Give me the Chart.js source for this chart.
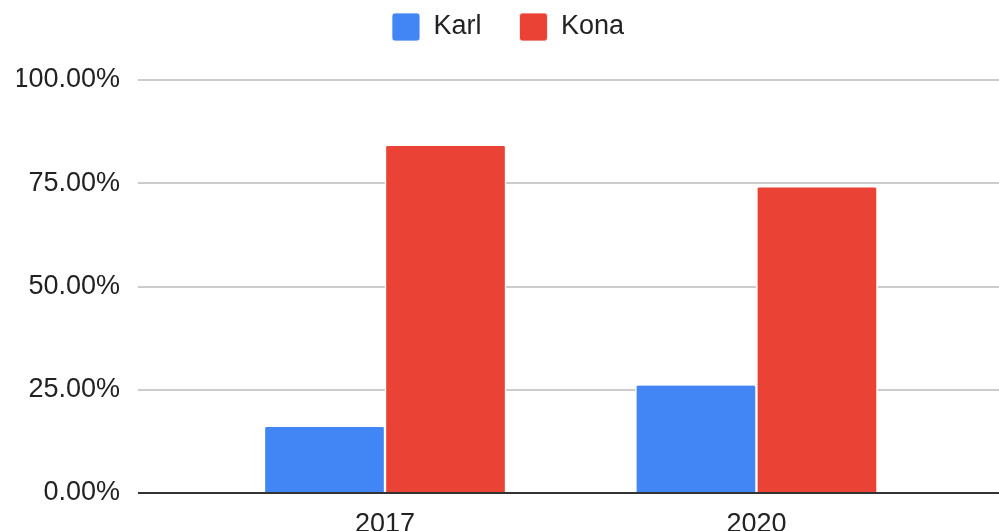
<!DOCTYPE html>
<html>
<head>
<meta charset="utf-8">
<script src="https://cdn.jsdelivr.net/npm/chart.js@4"></script>
<style>
  html, body { margin: 0; padding: 0; background: #fff; }
  #wrap { width: 999px; height: 531px; position: relative; }
</style>
</head>
<body>
<div id="wrap"><canvas id="chart"></canvas></div>
<script>
// ================= DATA =================
const years = ["2017", "2020"];
const karl = [0.16, 0.26];
const kona = [0.84, 0.74];
const yTicks = [0, 0.25, 0.5, 0.75, 1];

const FONT = "'Liberation Sans', Arial, sans-serif";
const TEXT = "#222";

// extra room under the legend (common legend-margin trick)
const legendMargin = {
  id: "legendMargin",
  beforeInit(chart) {
    const fitLegend = chart.legend.fit;
    chart.legend.fit = function fit() {
      fitLegend.bind(chart.legend)();
      this.height += 29;
    };
  }
};

const toPoints = arr => arr.map((v, i) => ({ x: i, y: v }));

new Chart(document.getElementById("chart"), {
  type: "bar",
  data: {
    datasets: [
      { label: "Karl", data: toPoints(karl), backgroundColor: "#4285F4" },
      { label: "Kona", data: toPoints(kona), backgroundColor: "#EA4335" }
    ]
  },
  options: {
    responsive: true,
    maintainAspectRatio: false,
    animation: false,
    layout: { padding: { top: -25, left: 17, right: 0, bottom: 0 } },
    datasets: {
      bar: {
        barThickness: 121,
        borderColor: "#fff",
        borderWidth: { top: 0, left: 1.5, right: 1.5, bottom: 0 },
        borderRadius: { topLeft: 3, topRight: 3 },
        borderSkipped: "start"
      }
    },
    plugins: {
      tooltip: { enabled: false },
      legend: {
        position: "top",
        labels: {
          font: { family: FONT, size: 27 },
          color: TEXT,
          boxWidth: 28,
          boxHeight: 28,
          padding: 38,
          useBorderRadius: true,
          borderRadius: 3
        }
      }
    },
    scales: {
      x: {
        type: "linear",
        offset: false,
        min: -0.665,
        max: 1.653,
        afterBuildTicks: s => { s.ticks = years.map((_, i) => ({ value: i })); },
        afterFit: s => { s.height = 38; },
        grid: { display: false },
        border: { display: false },
        ticks: {
          font: { family: FONT, size: 27 },
          color: TEXT,
          padding: 7,
          maxRotation: 0,
          callback: v => years[v]
        }
      },
      y: {
        min: 0,
        max: 1,
        afterBuildTicks: s => { s.ticks = yTicks.map(v => ({ value: v })); },
        afterFit: s => { s.width = 121; },
        border: { display: false },
        grid: {
          drawTicks: false,
          lineWidth: 2,
          color: c => (c.tick && c.tick.value === 0 ? "#333" : "#ccc")
        },
        ticks: {
          font: { family: FONT, size: 27 },
          color: TEXT,
          padding: 18,
          callback: v => (v * 100).toFixed(2) + "%"
        }
      }
    }
  },
  plugins: [legendMargin]
});
</script>
</body>
</html>
